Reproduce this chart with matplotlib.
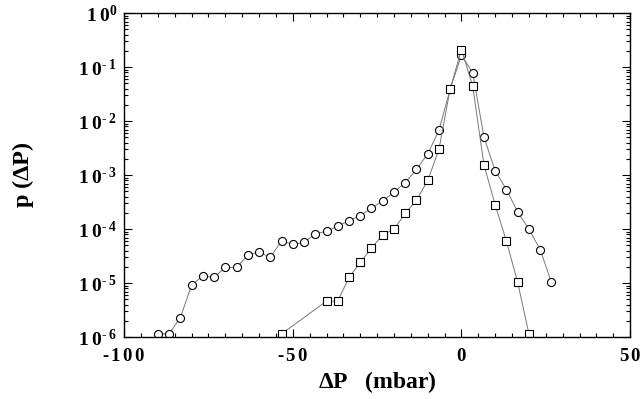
import numpy as np
import matplotlib
matplotlib.use("Agg")
import matplotlib.pyplot as plt
from matplotlib.ticker import MultipleLocator, LogLocator, FixedLocator, NullFormatter

plt.rcParams['font.family'] = 'Liberation Serif'
plt.rcParams['font.weight'] = 'bold'
plt.rcParams['mathtext.fontset'] = 'custom'
plt.rcParams['mathtext.rm'] = 'Liberation Serif:bold'
plt.rcParams['mathtext.it'] = 'Liberation Serif:bold'
plt.rcParams['mathtext.bf'] = 'Liberation Serif:bold'

# circles: wider distribution
circ_x = [-90, -86.67, -83.33, -80, -76.67, -73.33, -70, -66.67, -63.33, -60,
          -56.67, -53.33, -50, -46.67, -43.33, -40, -36.67, -33.33, -30, -26.67,
          -23.33, -20, -16.67, -13.33, -10, -6.67, -3.33, 0, 3.33, 6.67, 10,
          13.33, 16.67, 20, 23.33, 26.67]
circ_y = [1.15e-6, 1.15e-6, 2.3e-6, 9.2e-6, 1.36e-5, 1.28e-5, 1.95e-5, 1.95e-5,
          3.26e-5, 3.8e-5, 3.0e-5, 6.1e-5, 5.2e-5, 5.7e-5, 8.2e-5, 9.1e-5,
          1.14e-4, 1.43e-4, 1.79e-4, 2.45e-4, 3.34e-4, 4.84e-4, 7.3e-4, 1.28e-3,
          2.48e-3, 6.8e-3, 0.0397, 0.167, 0.0785, 5.1e-3, 1.2e-3, 5.4e-4,
          2.09e-4, 1.0e-4, 4.2e-5, 1.03e-5]

# squares: narrower distribution
sq_x = [-53.33, -40, -36.67, -33.33, -30, -26.67, -23.33, -20, -16.67, -13.33,
        -10, -6.67, -3.33, 0, 3.33, 6.67, 10, 13.33, 16.67, 20]
sq_y = [1.15e-6, 4.64e-6, 4.64e-6, 1.28e-5, 2.42e-5, 4.45e-5, 7.85e-5, 1.0e-4,
        1.95e-4, 3.44e-4, 8.0e-4, 3.0e-3, 0.04, 0.212, 0.0445, 1.55e-3,
        2.82e-4, 6.0e-5, 1.03e-5, 1.15e-6]

x_ticks = [-100, -50, 0, 50]
x_labels = [r'$\text{-}\,1\,0\,0$', r'$\text{-}\,5\,0$', r'$0$', r'$5\,0$']
y_ticks = [1e-6, 1e-5, 1e-4, 1e-3, 1e-2, 1e-1, 1]
y_labels = [r'$1\:0^{\text{-}\;' + str(k) + '}$' for k in [6, 5, 4, 3, 2, 1]]
y_labels.append(r'$1\:0^{0}$')

fig = plt.figure(figsize=(6.43, 3.99), dpi=100)
ax = fig.add_axes([0.193, 0.155, 0.787, 0.812])

ax.plot(circ_x, circ_y, '-o', color='#777777', lw=0.7, ms=5.8,
        mfc='white', mec='black', mew=0.8)
ax.plot(sq_x, sq_y, '-s', color='#777777', lw=0.7, ms=5.2,
        mfc='white', mec='black', mew=0.8)

ax.set_yscale('log')
ax.set_xlim(-100, 50)
ax.set_ylim(1e-6, 1)

ax.xaxis.set_major_locator(FixedLocator(x_ticks))
ax.xaxis.set_minor_locator(MultipleLocator(5))
ax.set_xticklabels(x_labels, fontsize=13.5)
ax.yaxis.set_major_locator(FixedLocator(y_ticks))
ax.yaxis.set_minor_locator(LogLocator(base=10, subs=np.arange(2, 10), numticks=20))
ax.yaxis.set_minor_formatter(NullFormatter())
ax.set_yticklabels(y_labels, fontsize=14)

ax.tick_params(which='both', direction='in', top=True, right=True, width=0.8)
ax.tick_params(which='major', length=6)
ax.tick_params(which='minor', length=3)
ax.tick_params(axis='x', pad=8)
ax.tick_params(axis='y', pad=5)
for s in ax.spines.values():
    s.set_linewidth(1.0)

ax.set_xlabel(r'$\Delta$P   (mbar)', fontsize=17, fontweight='bold', labelpad=3)
ax.set_ylabel(r'p ($\Delta$P)', fontsize=17.5, fontweight='bold', labelpad=30)

fig.savefig('out.png', dpi=100)
